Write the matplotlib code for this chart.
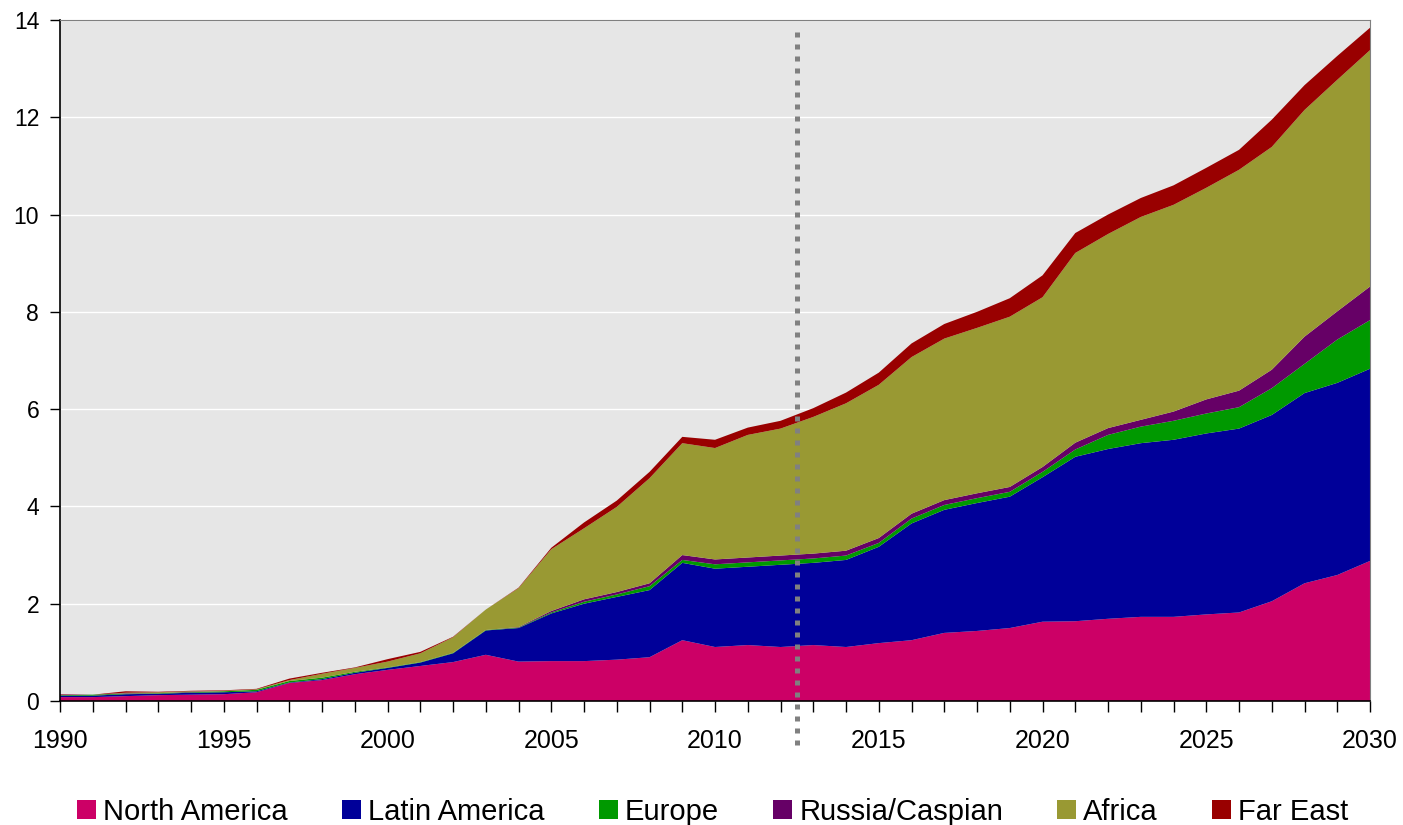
import numpy as np
import matplotlib.pyplot as plt
from matplotlib.ticker import MultipleLocator

plt.rcParams["font.family"] = ["Liberation Sans", "DejaVu Sans"]

years = np.arange(1990, 2031)

# thickness of each stacked band
north_america = [0.08, 0.08, 0.10, 0.12, 0.13, 0.14, 0.18, 0.37, 0.43, 0.55,
                 0.64, 0.72, 0.80, 0.95, 0.81, 0.82, 0.82, 0.85, 0.90, 1.25,
                 1.11, 1.15, 1.11, 1.15, 1.11, 1.19, 1.25, 1.40, 1.44, 1.50,
                 1.63, 1.64, 1.69, 1.73, 1.73, 1.78, 1.82, 2.05, 2.42, 2.59, 2.88]
latin_america = [0.03, 0.03, 0.04, 0.03, 0.04, 0.04, 0.02, 0.01, 0.02, 0.03,
                 0.04, 0.07, 0.18, 0.50, 0.69, 0.98, 1.18, 1.29, 1.38, 1.59,
                 1.61, 1.61, 1.69, 1.69, 1.79, 1.98, 2.40, 2.53, 2.63, 2.70,
                 2.97, 3.38, 3.49, 3.57, 3.64, 3.72, 3.78, 3.83, 3.91, 3.95, 3.95]
europe = [0.01, 0.02, 0.01, 0.01, 0.01, 0.02, 0.03, 0.03, 0.03, 0.02,
          0.01, 0.01, 0.01, 0.01, 0.01, 0.02, 0.04, 0.05, 0.08, 0.06,
          0.09, 0.09, 0.09, 0.09, 0.09, 0.08, 0.10, 0.10, 0.10, 0.10,
          0.11, 0.15, 0.29, 0.34, 0.39, 0.41, 0.44, 0.55, 0.60, 0.89, 1.00]
russia_caspian = [0.01, 0.00, 0.01, 0.00, 0.01, 0.00, 0.00, 0.00, 0.00, 0.00,
                  0.00, 0.00, 0.00, 0.00, 0.01, 0.03, 0.05, 0.05, 0.06, 0.10,
                  0.10, 0.10, 0.10, 0.10, 0.10, 0.10, 0.10, 0.10, 0.10, 0.10,
                  0.10, 0.14, 0.14, 0.14, 0.19, 0.29, 0.34, 0.38, 0.56, 0.58, 0.69]
africa = [0.00, 0.00, 0.01, 0.02, 0.01, 0.01, 0.01, 0.02, 0.08, 0.08,
          0.12, 0.18, 0.32, 0.42, 0.80, 1.27, 1.46, 1.75, 2.16, 2.30,
          2.29, 2.52, 2.61, 2.81, 3.03, 3.15, 3.22, 3.32, 3.40, 3.50,
          3.49, 3.90, 3.99, 4.17, 4.25, 4.35, 4.54, 4.58, 4.66, 4.76, 4.86]
far_east = [0.01, 0.00, 0.03, 0.01, 0.01, 0.01, 0.01, 0.03, 0.02, 0.01,
            0.05, 0.03, 0.01, 0.00, 0.01, 0.03, 0.12, 0.13, 0.13, 0.13,
            0.17, 0.15, 0.16, 0.18, 0.22, 0.25, 0.28, 0.30, 0.33, 0.38,
            0.45, 0.41, 0.40, 0.39, 0.40, 0.41, 0.41, 0.56, 0.51, 0.49, 0.46]

labels = ["North America", "Latin America", "Europe", "Russia/Caspian", "Africa", "Far East"]
colors = ["#CC0066", "#000099", "#009900", "#660066", "#999933", "#990000"]

fig = plt.figure(figsize=(14.03, 8.25), dpi=100)
ax = fig.add_axes([0.0428, 0.1503, 0.9337, 0.8255])
ax.set_facecolor("#E6E6E6")

ax.stackplot(years, north_america, latin_america, europe, russia_caspian,
             africa, far_east, colors=colors, labels=labels, linewidth=0)

ax.set_xlim(1990, 2030)
ax.set_ylim(0, 14)
ax.yaxis.set_major_locator(MultipleLocator(2))
ax.xaxis.set_major_locator(MultipleLocator(5))
ax.xaxis.set_minor_locator(MultipleLocator(1))
ax.grid(axis="y", color="white", linewidth=1)
ax.set_axisbelow(True)

for side in ["top", "right"]:
    ax.spines[side].set_color("#808080")
for side in ["left", "bottom"]:
    ax.spines[side].set_color("black")
    ax.spines[side].set_linewidth(1.2)

ax.tick_params(axis="x", which="both", length=8, width=1, direction="out",
               labelsize=18, pad=12)
ax.tick_params(axis="y", length=7, width=1, direction="out", labelsize=16.5, pad=8)

# forecast divider
ax.plot([2012.5, 2012.5], [-0.9, 13.75], color="#808080", linewidth=3.6,
        linestyle=(0, (1, 1.4)), dash_capstyle="butt", clip_on=False, zorder=5)

fig.legend(loc="center", bbox_to_anchor=(0.508, 0.016), ncol=6, frameon=False,
           fontsize=21, handlelength=0.65, handleheight=0.65, handletextpad=0.25,
           columnspacing=1.85, borderaxespad=0)

fig.savefig("out.png", dpi=100)
